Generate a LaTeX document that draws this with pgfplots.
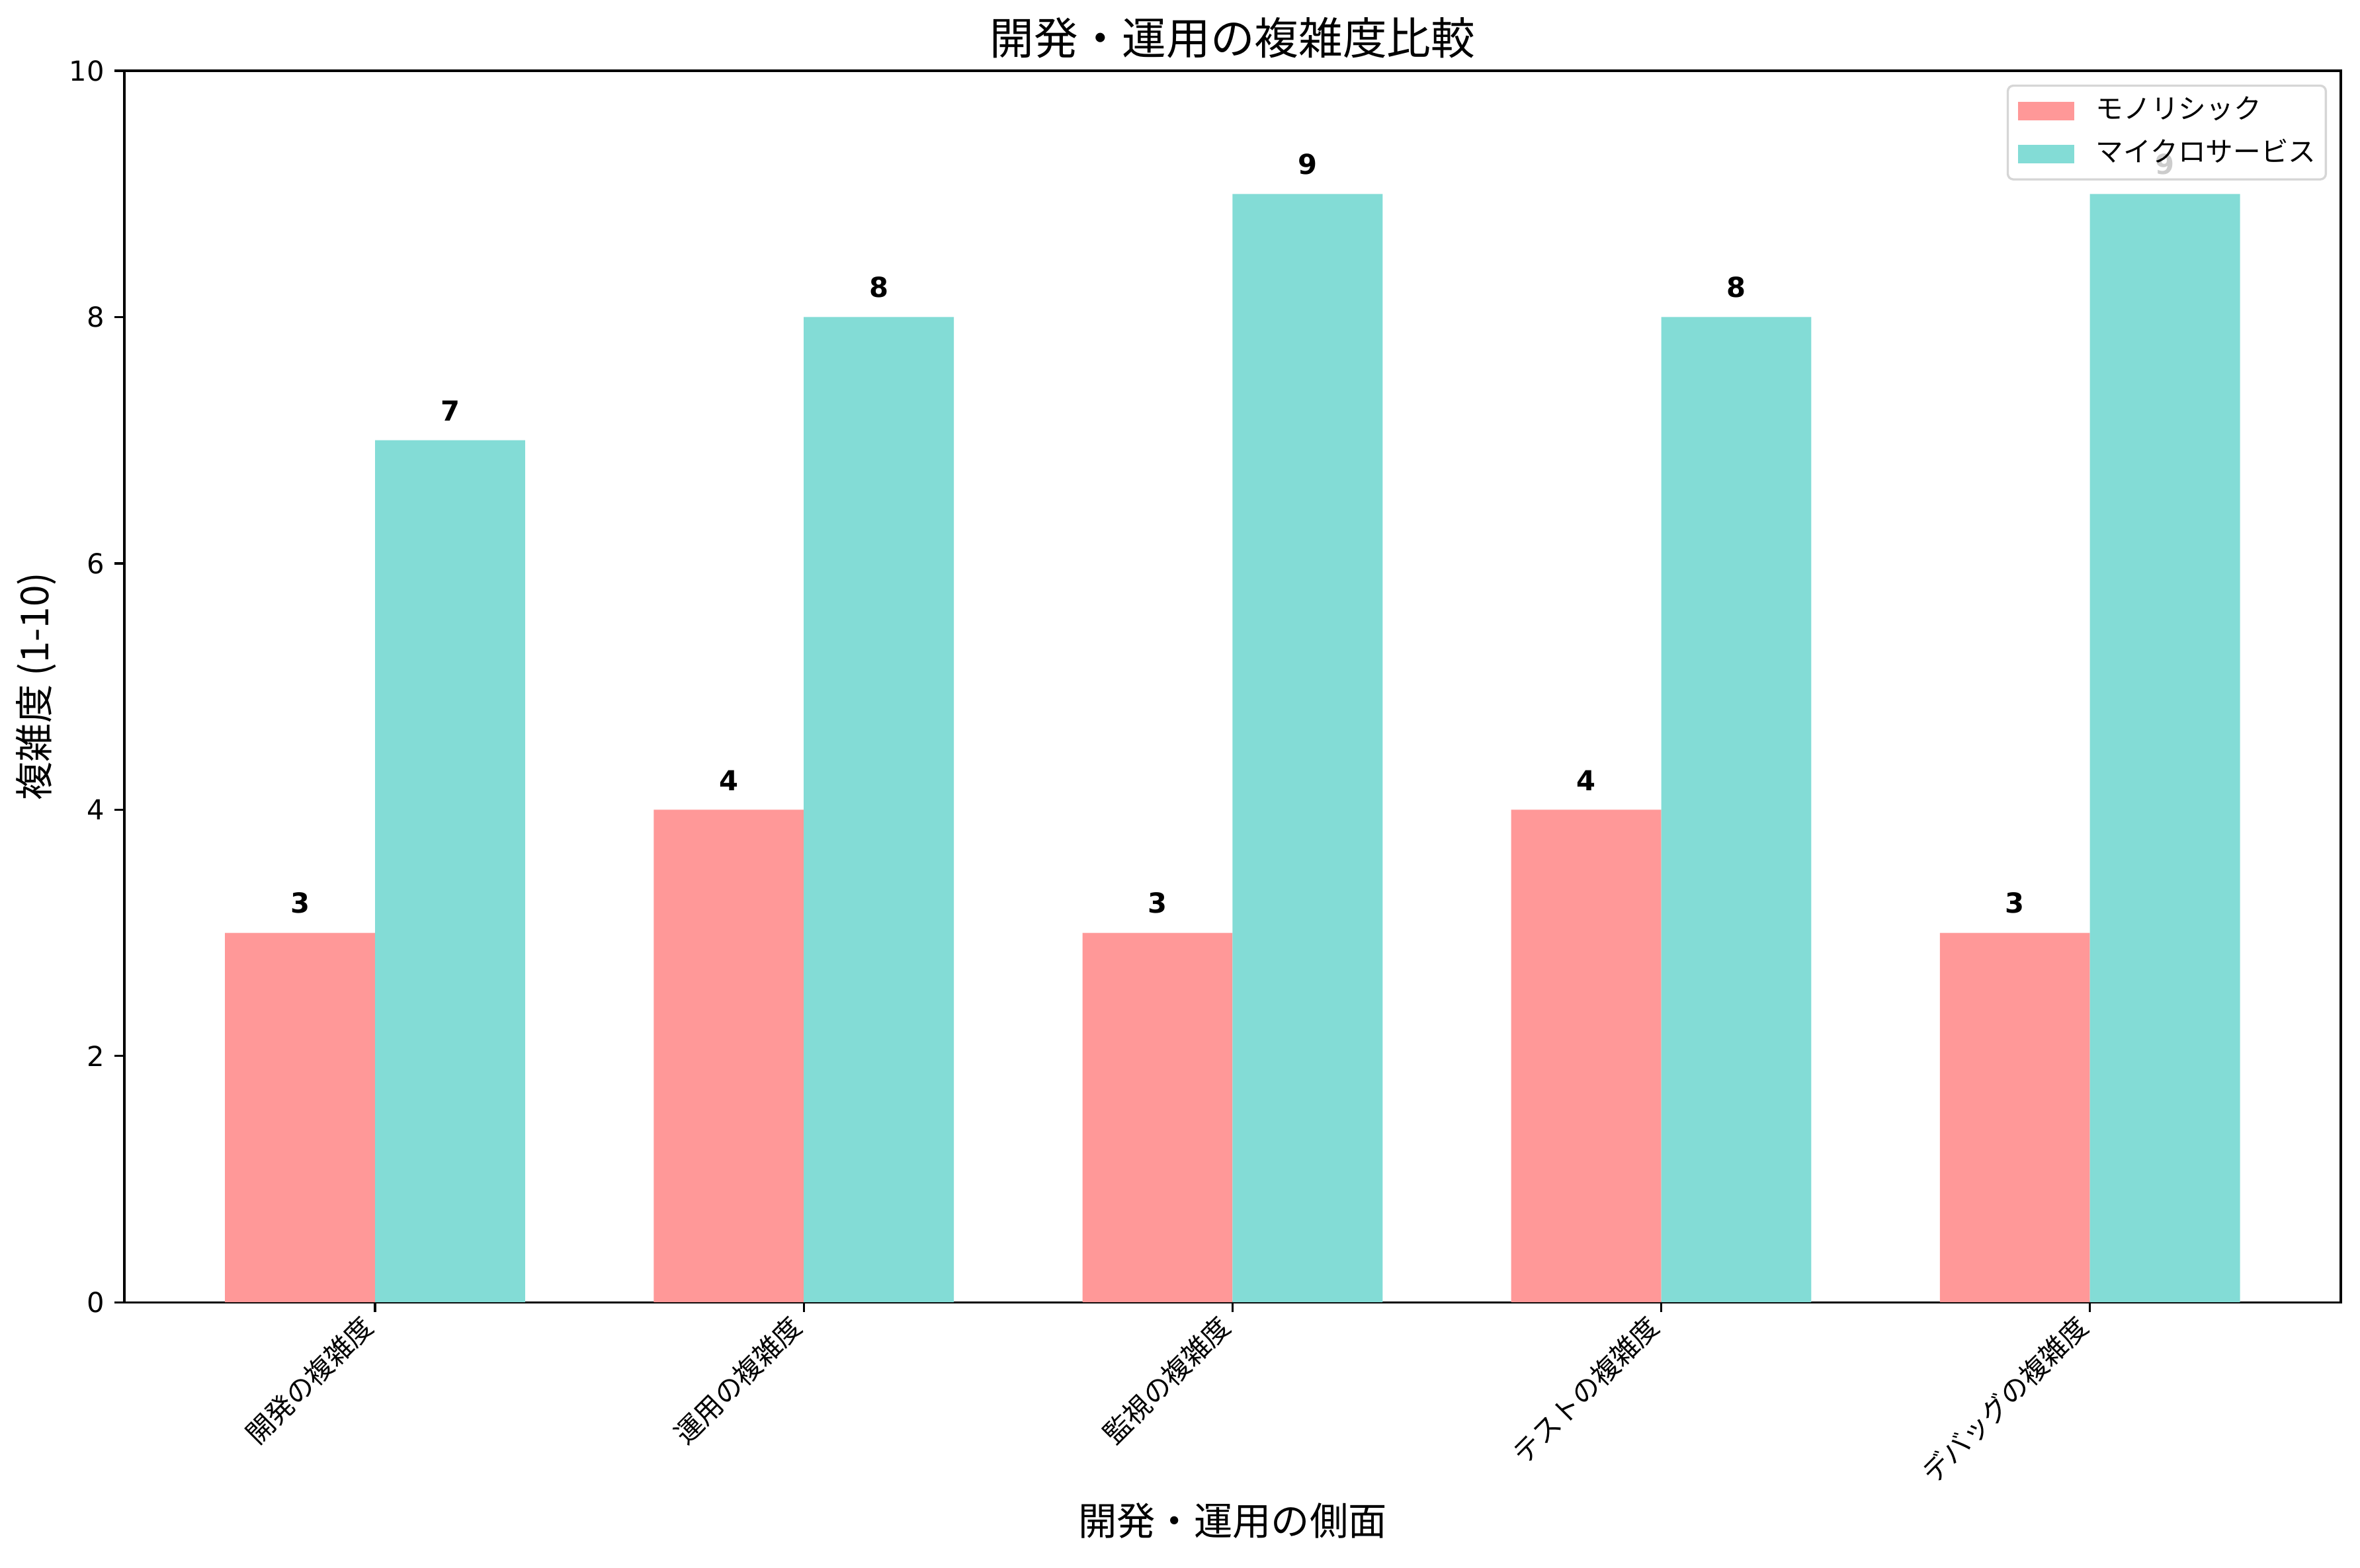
\documentclass[border=0pt]{standalone}
\usepackage{pgfplots}
\pgfplotsset{compat=1.18}
\usepackage{fontspec}
\setmainfont{DejaVu Sans}
\newfontfamily\jp{Noto Sans CJK JP}
\definecolor{mono}{RGB}{255,152,152}
\definecolor{micro}{RGB}{131,220,214}
\begin{document}
\begin{tikzpicture}
\useasboundingbox (-45.1pt,-96.2pt) rectangle (811.2pt,472.6pt);
\begin{axis}[
  scale only axis, width=804.2pt, height=446.9pt,
  xmin=-0.585, xmax=4.585, ymin=0, ymax=10,
  xtick={0,1,2,3,4},
  xticklabels={開発の複雑度,運用の複雑度,監視の複雑度,テストの複雑度,デバッグの複雑度},
  ytick={0,2,4,6,8,10},
  xtick pos=left, ytick pos=left,
  tick align=outside, major tick length=3.5pt,
  axis line style={line width=0.8pt},
  every tick/.style={black, line width=0.8pt},
  /pgf/number format/assume math mode=true,
  tick label style={font=\fontsize{10}{12}\selectfont},
  yticklabel style={inner sep=0pt, anchor=east, xshift=-3.5pt},
  xticklabel style={font=\jp\fontsize{10}{12}\selectfont, xshift=-6pt, rotate=45, anchor=north east, inner sep=0pt},
  title={開発・運用の複雑度比較},
  title style={font=\jp\fontsize{16}{19}\selectfont, at={(0.5,1)}, anchor=base, yshift=0pt, inner sep=0pt},
  xlabel={開発・運用の側面},
  xlabel style={font=\jp\fontsize{14}{17}\selectfont, at={(0.5,0)}, anchor=base, yshift=-84.5pt, inner sep=0pt},
  ylabel={複雑度 (1-10)},
  ylabel style={font=\jp\fontsize{14}{17}\selectfont, at={(0,0.5)}, anchor=center, yshift=32pt, inner sep=0pt},
  ybar, bar width=0.35,
  legend style={at={(1,1)}, anchor=north east, xshift=-5pt, yshift=-5pt,
    draw=black!16, line width=0.8pt, rounded corners=2pt, fill=white, fill opacity=0.8, text opacity=1,
    font=\jp\fontsize{10}{12}\selectfont,
    nodes={inner sep=0pt, text height=7.5pt, text depth=2pt},
    column sep=8pt, row sep=6.1pt, inner xsep=3.6pt, inner ysep=4.45pt},
  legend cell align=left,
  nodes near coords,
  nodes near coords style={font=\bfseries\fontsize{10}{12}\selectfont, inner sep=0pt, anchor=south, yshift=6.8pt, text=black},
]
\addplot[fill=mono, draw=none, bar shift=-0.175,
  legend image code/.code={\fill[mono, fill opacity=1, sharp corners] (0pt,-3.4pt) rectangle (20.4pt,3.4pt);}]
  coordinates {(0,3) (1,4) (2,3) (3,4) (4,3)};
\addlegendentry{モノリシック}
\addplot[fill=micro, draw=none, bar shift=0.175,
  legend image code/.code={\fill[micro, fill opacity=1, sharp corners] (0pt,-3.4pt) rectangle (20.4pt,3.4pt);}]
  coordinates {(0,7) (1,8) (2,9) (3,8) (4,9)};
\addlegendentry{マイクロサービス}
\end{axis}
\end{tikzpicture}
\end{document}
